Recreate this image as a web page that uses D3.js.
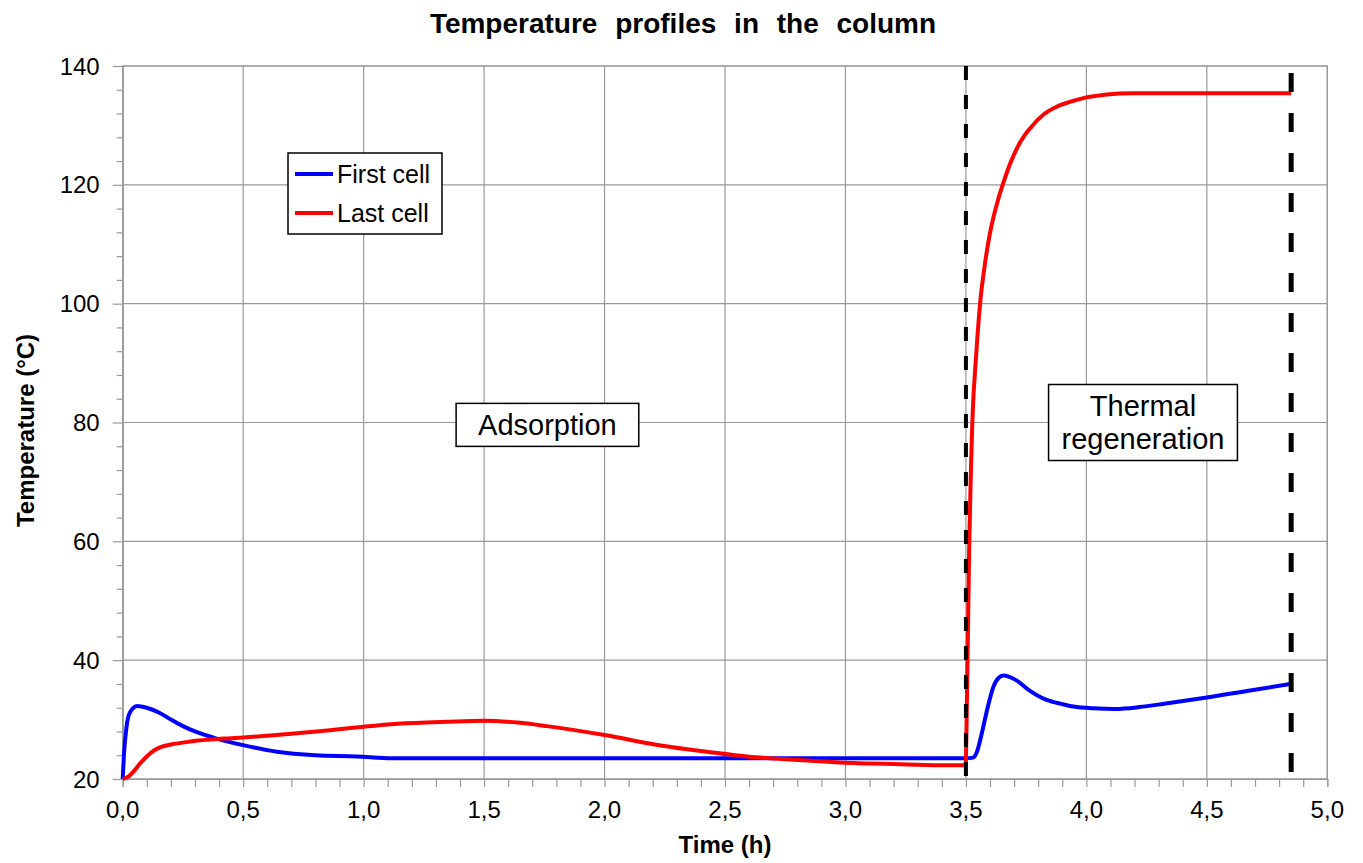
<!DOCTYPE html>
<html lang="en">
<head>
    <meta charset="UTF-8">
    <title>Temperature profiles in the column</title>
    <script src="https://d3js.org/d3.v7.min.js"></script>
    <style>
        body { margin: 0; background: #fff; }
        text { font-family: "Liberation Sans", Arial, sans-serif; fill: #000; }
    </style>
</head>
<body>

<div id="chart"></div>

<script>
    // First cell (blue) - time in h, temperature in °C
    const timeFirst = [0, 0.005, 0.015, 0.03, 0.06, 0.1, 0.15, 0.2, 0.25, 0.3, 0.39, 0.5, 0.64, 0.8, 0.97, 1.12,
        2.0, 3.0, 3.5, 3.53, 3.545, 3.566, 3.59, 3.614, 3.635, 3.655, 3.68, 3.71, 3.76, 3.835, 3.9, 3.946,
        4.03, 4.12, 4.22, 4.33, 4.5, 4.68, 4.85];
    const tempFirst = [20, 24, 28.5, 31.2, 32.3, 32.0, 31.2, 30.0, 28.9, 28.0, 26.8, 25.7, 24.6, 24.0, 23.8, 23.5,
        23.5, 23.5, 23.5, 23.6, 24.5, 27.7, 32.0, 35.5, 37.0, 37.4, 37.2, 36.6, 35.0, 33.3, 32.6, 32.2,
        31.9, 31.8, 32.1, 32.7, 33.7, 34.9, 36.0];

    // Last cell (red)
    const timeLast = [0, 0.023, 0.05, 0.072, 0.1, 0.13, 0.16, 0.2, 0.28, 0.42, 0.5, 0.7, 0.86, 1.0, 1.14, 1.35,
        1.5, 1.64, 1.76, 2.0, 2.24, 2.4, 2.6, 2.81, 3.03, 3.23, 3.42, 3.499, 3.503, 3.512, 3.527, 3.542,
        3.559, 3.58, 3.6, 3.63, 3.655, 3.69, 3.73, 3.766, 3.821, 3.88, 3.96, 4.084, 4.19, 4.85];
    const tempLast = [20, 20.4, 21.5, 22.6, 23.8, 24.8, 25.4, 25.8, 26.3, 26.8, 27.0, 27.6, 28.2, 28.8, 29.3, 29.65,
        29.8, 29.5, 28.9, 27.4, 25.6, 24.7, 23.75, 23.2, 22.7, 22.5, 22.3, 22.3, 30, 55, 80.4, 91,
        100.1, 107, 111.9, 117, 120.3, 124.2, 127.5, 129.5, 131.8, 133.2, 134.3, 135.2, 135.4, 135.4];

    // phase boundaries (h)
    const phaseLines = [3.5, 4.85];

    // tick values
    const xTicks = [0, 0.5, 1, 1.5, 2, 2.5, 3, 3.5, 4, 4.5, 5];
    const yTicks = [20, 40, 60, 80, 100, 120, 140];

    // text boxes: label lines, position in data units
    const boxLines = [["Adsorption"], ["Thermal", "regeneration"]];
    const boxTime = [1.763, 4.235];
    const boxTemp = [79.6, 80];

    const width = 1363, height = 863;
    const margin = { left: 122.7, right: 1363 - 1327.3, top: 66, bottom: 863 - 779 };

    const x = d3.scaleLinear().domain([0, 5]).range([margin.left, width - margin.right]);
    const y = d3.scaleLinear().domain([20, 140]).range([height - margin.bottom, margin.top]);

    const svg = d3.select("#chart").append("svg")
        .attr("width", width)
        .attr("height", height);

    const gridColor = "#999";
    const fmt = v => d3.format(".1f")(v).replace(".", ",");

    // gridlines
    svg.append("g").selectAll("line").data(xTicks).join("line")
        .attr("x1", d => x(d)).attr("x2", d => x(d))
        .attr("y1", y(140)).attr("y2", y(20))
        .attr("stroke", gridColor).attr("stroke-width", 1.2);
    svg.append("g").selectAll("line").data(yTicks).join("line")
        .attr("x1", x(0)).attr("x2", x(5))
        .attr("y1", d => y(d)).attr("y2", d => y(d))
        .attr("stroke", gridColor).attr("stroke-width", 1.2);

    // x axis with minor ticks
    const xAxis = svg.append("g").attr("transform", `translate(0,${y(20)})`)
        .call(d3.axisBottom(x).tickValues(d3.range(0, 5.001, 0.1)).tickSize(8).tickFormat(""));
    xAxis.select(".domain").attr("stroke", gridColor).attr("stroke-width", 1.2);
    xAxis.selectAll(".tick line").attr("stroke", gridColor).attr("stroke-width", 1.2);
    svg.append("g").selectAll("text").data(xTicks).join("text")
        .attr("x", d => x(d)).attr("y", y(20) + 39)
        .attr("text-anchor", "middle")
        .style("font-size", "24px")
        .text(fmt);

    // y axis with minor ticks
    const yAxis = svg.append("g").attr("transform", `translate(${x(0)},0)`)
        .call(d3.axisLeft(y).tickValues(d3.range(20, 140.001, 4)).tickSize(6).tickFormat(""));
    yAxis.select(".domain").attr("stroke", gridColor).attr("stroke-width", 1.2);
    yAxis.selectAll(".tick line").attr("stroke", gridColor).attr("stroke-width", 1.2)
        .attr("x2", d => yTicks.includes(Math.round(d)) ? -10 : -6);
    svg.append("g").selectAll("text").data(yTicks).join("text")
        .attr("x", x(0) - 23).attr("y", d => y(d) + 8.5)
        .attr("text-anchor", "end")
        .style("font-size", "24px")
        .text(d => d);

    // plot frame
    svg.append("rect")
        .attr("x", x(0)).attr("y", y(140))
        .attr("width", x(5) - x(0)).attr("height", y(20) - y(140))
        .attr("fill", "none").attr("stroke", gridColor).attr("stroke-width", 1.2);

    // series
    const line = d3.line()
        .x(d => x(d[0]))
        .y(d => y(d[1]))
        .curve(d3.curveMonotoneX);

    const firstData = d3.zip(timeFirst, tempFirst);
    const lastData = d3.zip(timeLast, tempLast);

    svg.append("path").datum(firstData)
        .attr("d", line).attr("fill", "none")
        .attr("stroke", "#0000ff").attr("stroke-width", 4).attr("stroke-linejoin", "round");
    svg.append("path").datum(lastData)
        .attr("d", line).attr("fill", "none")
        .attr("stroke", "#ff0000").attr("stroke-width", 4).attr("stroke-linejoin", "round");

    // phase boundary dashed lines
    svg.append("line")
        .attr("x1", x(phaseLines[0])).attr("x2", x(phaseLines[0]))
        .attr("y1", y(140)).attr("y2", y(20))
        .attr("stroke", "#000").attr("stroke-width", 4)
        .attr("stroke-dasharray", "14,15");
    svg.append("line")
        .attr("x1", x(phaseLines[1])).attr("x2", x(phaseLines[1]))
        .attr("y1", y(140)).attr("y2", y(20))
        .attr("stroke", "#000").attr("stroke-width", 5)
        .attr("stroke-dasharray", "19,21").attr("stroke-dashoffset", -7);

    // text boxes (padding differs a little between the two boxes)
    const boxPad = [22, 13];
    boxLines.forEach((lines, i) => {
        const cx = x(boxTime[i]), cy = y(boxTemp[i]);
        const lh = 33;
        const g = svg.append("g");
        const txt = g.selectAll("text").data(lines).join("text")
            .attr("x", cx)
            .attr("y", (d, j) => cy + (j - (lines.length - 1) / 2) * lh + 10)
            .attr("text-anchor", "middle")
            .style("font-size", "29px")
            .text(d => d);
        let w = 0;
        txt.each(function () { w = Math.max(w, this.getComputedTextLength()); });
        const bw = w + 2 * boxPad[i], bh = lines.length * lh + 10;
        g.insert("rect", "text")
            .attr("x", cx - bw / 2).attr("y", cy - bh / 2)
            .attr("width", bw).attr("height", bh)
            .attr("fill", "#fff").attr("stroke", "#000").attr("stroke-width", 1.5);
    });

    // legend
    const legend = svg.append("g").attr("transform", "translate(288,153)");
    legend.append("rect")
        .attr("width", 154).attr("height", 81)
        .attr("fill", "#fff").attr("stroke", "#000").attr("stroke-width", 1.5);
    const legendItems = [["First cell", "#0000ff"], ["Last cell", "#ff0000"]];
    legendItems.forEach((it, i) => {
        const ly = 21 + i * 39;
        legend.append("line")
            .attr("x1", 7).attr("x2", 45).attr("y1", ly).attr("y2", ly)
            .attr("stroke", it[1]).attr("stroke-width", 4);
        legend.append("text")
            .attr("x", 49).attr("y", ly + 8.5)
            .style("font-size", "25px")
            .text(it[0]);
    });

    // titles
    svg.append("text")
        .attr("x", 683).attr("y", 33)
        .attr("text-anchor", "middle")
        .style("font-size", "28px").style("font-weight", "bold")
        .style("word-spacing", "10px")
        .text("Temperature profiles in the column");

    svg.append("text")
        .attr("x", (x(0) + x(5)) / 2).attr("y", 853)
        .attr("text-anchor", "middle")
        .style("font-size", "24px").style("font-weight", "bold")
        .text("Time (h)");

    svg.append("text")
        .attr("transform", `translate(34,${(y(20) + y(140)) / 2 + 8}) rotate(-90)`)
        .attr("text-anchor", "middle")
        .style("font-size", "24px").style("font-weight", "bold")
        .text("Temperature (°C)");
</script>

</body>
</html>
